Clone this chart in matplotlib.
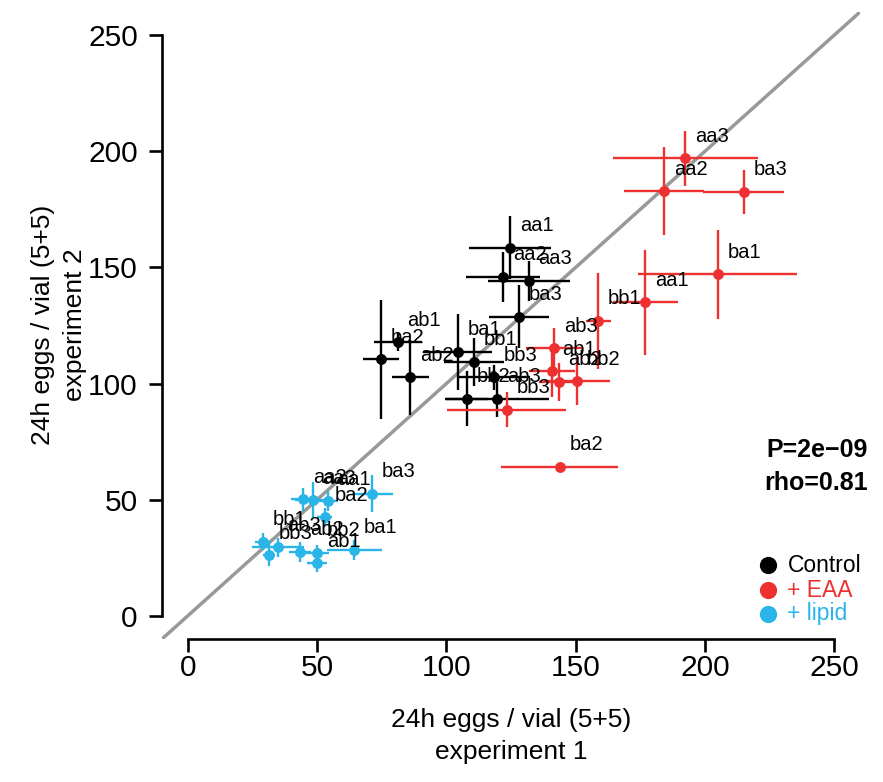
import matplotlib
matplotlib.use("Agg")
import matplotlib.pyplot as plt

plt.rcParams['font.family'] = ['Liberation Sans', 'DejaVu Sans']

# Data: mean and error of 24h eggs per vial
ctrl_labels = ["aa1", "aa2", "aa3", "ba3", "ab1", "ba2", "ab2", "ba1", "bb1", "bb3", "bb2", "ab3"]
ctrl_x = [124.6, 122.0, 131.9, 128.1, 81.2, 74.7, 86.0, 104.3, 110.7, 118.4, 107.8, 119.7]
ctrl_y = [158.4, 145.9, 144.2, 128.7, 117.7, 110.5, 102.6, 113.6, 109.3, 102.6, 93.5, 93.5]
ctrl_xerr = [15.7, 14.3, 16.0, 11.6, 9.3, 7.1, 7.2, 13.5, 11.6, 14.0, 8.2, 20.0]
ctrl_yerr = [13.6, 10.8, 8.6, 13.6, 3.9, 25.6, 16.0, 16.5, 10.4, 5.4, 11.8, 7.8]

eaa_labels = ["aa3", "aa2", "ba3", "ba1", "aa1", "bb1", "ab3", "ab1", "ab2", "bb2", "bb3", "ba2"]
eaa_x = [192.4, 184.3, 215.0, 205.0, 177.0, 158.7, 141.6, 140.9, 143.5, 150.6, 123.3, 143.8]
eaa_y = [196.9, 182.9, 182.5, 147.1, 134.9, 127.0, 115.2, 105.3, 100.7, 101.1, 88.8, 64.1]
eaa_xerr = [28.0, 15.5, 15.7, 30.7, 12.6, 4.8, 11.0, 9.0, 7.7, 12.8, 23.0, 22.7]
eaa_yerr = [11.9, 19.1, 9.5, 19.2, 22.5, 20.8, 8.5, 11.0, 8.2, 10.4, 7.5, 0.5]

lipid_labels = ["aa2", "aa3", "aa1", "ba3", "ba2", "bb1", "bb3", "ab3", "ab2", "bb2", "ab1", "ba1"]
lipid_x = [44.5, 48.3, 54.1, 71.3, 52.9, 29.1, 31.4, 34.8, 43.5, 50.0, 50.0, 64.4]
lipid_y = [50.2, 49.7, 49.4, 52.6, 42.5, 31.8, 26.1, 29.4, 27.5, 27.2, 22.5, 28.5]
lipid_xerr = [4.5, 7.0, 4.0, 8.0, 3.0, 3.0, 2.2, 10.0, 4.2, 4.5, 3.9, 10.6]
lipid_yerr = [5.0, 7.8, 4.3, 8.0, 4.0, 3.7, 4.6, 4.0, 4.3, 3.2, 3.6, 4.3]

ticks = [0, 50, 100, 150, 200, 250]
stats_text = ["P=2e\u221209", "rho=0.81"]
legend_names = ["Control", "+ EAA", "+ lipid"]
colors = ["black", "#EE3030", "#29B5E8"]

fig = plt.figure(figsize=(8.83, 7.82), dpi=100)
ax = fig.add_axes([0.1835, 0.1829, 0.7905, 0.8018])
ax.set_xlim(-10, 260)
ax.set_ylim(-10, 260)

# identity line
ax.plot([-10, 260], [-10, 260], color="#999999", lw=2.5, zorder=1, solid_capstyle="butt")

groups = [
    (ctrl_labels, ctrl_x, ctrl_y, ctrl_xerr, ctrl_yerr, colors[0]),
    (eaa_labels, eaa_x, eaa_y, eaa_xerr, eaa_yerr, colors[1]),
    (lipid_labels, lipid_x, lipid_y, lipid_xerr, lipid_yerr, colors[2]),
]
for labels, xs, ys, xe, ye, col in groups:
    ax.errorbar(xs, ys, xerr=xe, yerr=ye, fmt="o", color=col, ms=6.8,
                elinewidth=1.7, capsize=0, zorder=2)
    for lab, x, y in zip(labels, xs, ys):
        ax.annotate(lab, (x, y), xytext=(7.0, 15.8), textcoords="offset points",
                    ha="left", va="center", fontsize=14.5, color="black", zorder=3)

# R-style axes
for s in ["top", "right"]:
    ax.spines[s].set_visible(False)
ax.spines["left"].set_bounds(0, 250)
ax.spines["bottom"].set_bounds(0, 250)
ax.spines["left"].set_linewidth(1.9)
ax.spines["bottom"].set_linewidth(1.9)
ax.set_xticks(ticks)
ax.set_yticks(ticks)
ax.tick_params(axis="both", length=9.4, width=1.9, labelsize=21.5)
ax.tick_params(axis="x", pad=1.5)
ax.tick_params(axis="y", pad=8)

fig.text(0.579, 0.0588, "24h eggs / vial (5+5)\nexperiment 1", fontsize=19,
         ha="center", va="center", linespacing=1.4)
fig.text(0.0668, 0.5844, "24h eggs / vial (5+5)\nexperiment 2", fontsize=19,
         ha="center", va="center", rotation=90, linespacing=1.4)

# statistics
ax.text(1.011, 0.3015, stats_text[0], transform=ax.transAxes, ha="right", va="center",
        fontsize=18, fontweight="bold")
ax.text(1.011, 0.2485, stats_text[1], transform=ax.transAxes, ha="right", va="center",
        fontsize=18, fontweight="bold")

# legend
leg_y = [0.1175, 0.0775, 0.0405]
for name, col, yy in zip(legend_names, colors, leg_y):
    ax.scatter([0.868], [yy], transform=ax.transAxes, s=130, color=col, clip_on=False, zorder=4)
    ax.text(0.896, yy, name, transform=ax.transAxes, ha="left", va="center",
            fontsize=16.5, color=col)

fig.savefig("out.png", dpi=100)
